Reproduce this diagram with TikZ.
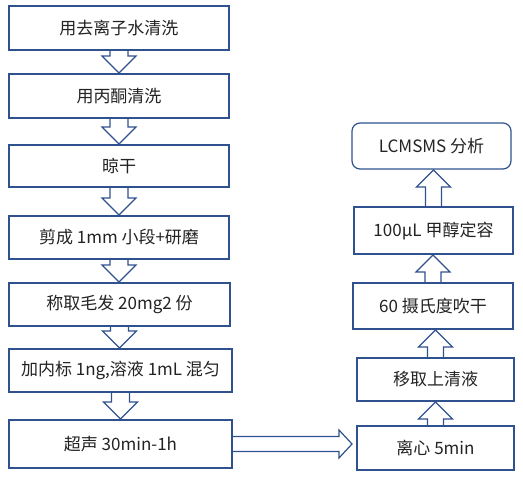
\documentclass[tikz,border=0pt]{standalone}
\usepackage{fontspec}
\setmainfont{Noto Sans CJK SC}
\usetikzlibrary{calc}
\definecolor{bord}{RGB}{47,82,143}
\definecolor{txt}{RGB}{35,35,35}
\tikzset{
  box/.style={draw=bord, line width=1.2pt, fill=white, inner sep=0pt, outer sep=0pt,
    text=txt, font=\fontsize{17}{19}\selectfont},
  blk/.style={draw=bord, line width=1.2pt, line join=miter}
}
\newcommand\bx[7][]{%
  \node[box,#1, minimum width={(#5-#3)*1pt}, minimum height={(#6-#4)*1pt}]
    (#2) at ({(#3+#5)/2},{(#4+#6)/2}) {#7};}
\newcommand\darr[2]{%
  \draw[blk] let \p1=(#1.south), \p2=(#2.north) in
    (\x1-9pt,\y1) -- (\x1-9pt,\y2+18pt) -- (\x1-17pt,\y2+18pt) -- (\x1,\y2+1pt)
    -- (\x1+17pt,\y2+18pt) -- (\x1+9pt,\y2+18pt) -- (\x1+9pt,\y1);}
\newcommand\uarr[2]{%
  \draw[blk] let \p1=(#1.north), \p2=(#2.south) in
    (\x1-8pt,\y1) -- (\x1-8pt,\y2-18pt) -- (\x1-17pt,\y2-18pt) -- (\x1,\y2-1pt)
    -- (\x1+17pt,\y2-18pt) -- (\x1+8pt,\y2-18pt) -- (\x1+8pt,\y1);}
\begin{document}
\begin{tikzpicture}[x=1pt,y=-1pt]
\useasboundingbox (0,0) rectangle (523,477);
\bx{b1}{9}{6}{229}{50}{用去离子水清洗}
\bx{b2}{9}{74}{229}{118}{用丙酮清洗}
\bx{b3}{9}{145}{229}{187}{晾干}
\bx{b4}{9}{216}{229}{259}{剪成 1mm 小段+研磨}
\bx{b5}{9}{283}{230}{326}{称取毛发 20mg2 份}
\bx{b6}{9}{349}{232}{392}{加内标 1ng,溶液 1mL 混匀}
\bx{b7}{9}{420}{232}{468}{超声 30min-1h}
\bx{r1}{357}{426}{514}{470}{离心 5min}
\bx{r2}{357}{358}{514}{401}{移取上清液}
\bx{r3}{353}{283}{513}{329}{60 摄氏度吹干}
\bx{r4}{354}{207}{513}{254}{100µL 甲醇定容}
\bx[rounded corners=8pt]{r5}{352}{123}{511}{169}{LCMSMS 分析}
\darr{b1}{b2}
\darr{b2}{b3}
\darr{b3}{b4}
\darr{b4}{b5}
\darr{b5}{b6}
\darr{b6}{b7}
\uarr{r1}{r2}
\uarr{r2}{r3}
\uarr{r3}{r4}
\uarr{r4}{r5}
\draw[blk] let \p1=(b7.east), \p2=(r1.west) in
  (\x1,\y1+7.5pt) -- (\x2-18pt,\y1+7.5pt) -- (\x2-18pt,\y1+14pt) -- (\x2-5pt,\y1)
  -- (\x2-18pt,\y1-14pt) -- (\x2-18pt,\y1-7.5pt) -- (\x1,\y1-7.5pt);
\end{tikzpicture}
\end{document}
